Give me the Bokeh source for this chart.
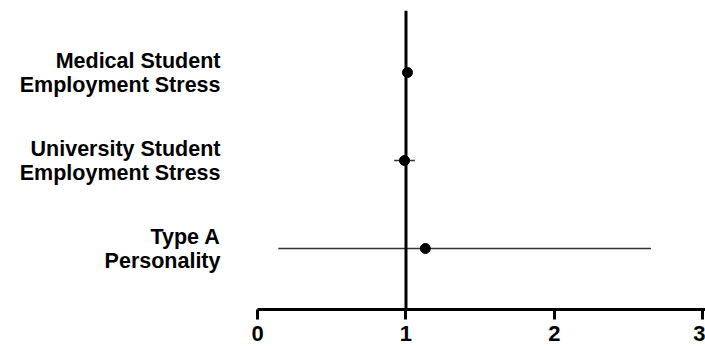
from bokeh.plotting import figure
from bokeh.models import Span, FixedTicker, Range1d
from bokeh.embed import file_html
from bokeh.resources import INLINE

labels = ["Medical Student\nEmployment Stress", "University Student\nEmployment Stress", "Type A\nPersonality"]
ypos = [3, 2, 1]
estimate = [1.01, 0.99, 1.13]
lower = [0.99, 0.92, 0.14]
upper = [1.03, 1.06, 2.65]
xticks = [0, 1, 2, 3]

p = figure(width=705, height=347, output_backend="svg", toolbar_location=None,
           x_range=Range1d(0, 3.017), y_range=Range1d(0.307, 3.705),
           min_border_left=257, min_border_right=0, min_border_top=10, min_border_bottom=38)
p.outline_line_color = None
p.grid.visible = False
p.background_fill_color = "white"

p.segment(x0=lower, x1=upper, y0=ypos, y1=ypos, line_color="#333333", line_width=1.5)
p.add_layout(Span(location=1, dimension="height", line_color="black", line_width=3))
p.scatter(x=estimate, y=ypos, size=10, color="black")

p.xaxis.ticker = FixedTicker(ticks=xticks)
p.xaxis.axis_line_width = 3
p.xaxis.major_tick_line_width = 3
p.xaxis.major_tick_out = 10
p.xaxis.major_tick_in = 0
p.xaxis.minor_tick_line_color = None
p.xaxis.major_label_text_font = "Liberation Sans"
p.xaxis.major_label_text_font_style = "bold"
p.xaxis.major_label_text_font_size = "22px"
p.xaxis.major_label_text_line_height = 1.0
p.xaxis.major_label_text_color = "black"
p.xaxis.major_label_standoff = 6

p.yaxis.ticker = FixedTicker(ticks=ypos)
p.yaxis.major_label_overrides = {y: l for y, l in zip(ypos, labels)}
p.yaxis.axis_line_color = None
p.yaxis.major_tick_line_color = None
p.yaxis.minor_tick_line_color = None
p.yaxis.major_label_text_font = "Liberation Sans"
p.yaxis.major_label_text_font_style = "bold"
p.yaxis.major_label_text_font_size = "21.5px"
p.yaxis.major_label_text_line_height = 1.0
p.yaxis.major_label_text_color = "black"
p.yaxis.major_label_text_align = "right"
p.yaxis.major_label_standoff = 31

open("out.html", "w").write(file_html(p, INLINE))
